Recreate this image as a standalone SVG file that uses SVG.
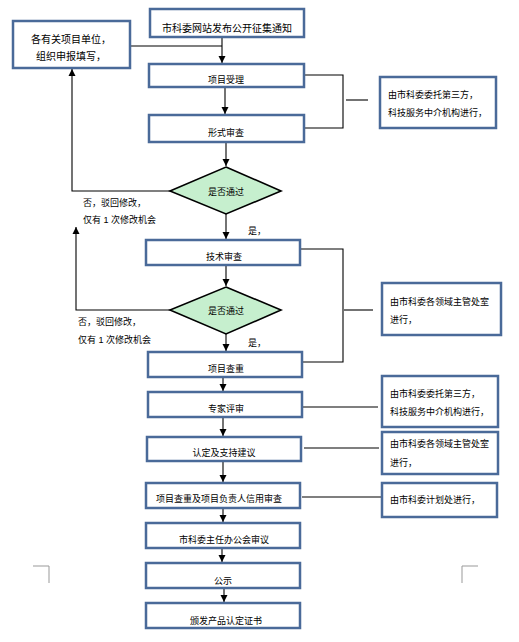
<svg xmlns="http://www.w3.org/2000/svg" width="519" height="642" viewBox="0 0 519 642">
<style>
.box{fill:#fff;stroke:#4a6a99;stroke-width:2.5}
.dia{fill:#c6efce;stroke:#000;stroke-width:1.6}
.ln{fill:none;stroke:#000;stroke-width:1.1}
.t{font-family:"Liberation Sans","Noto Sans CJK SC",sans-serif;font-size:9px;fill:#000;text-anchor:middle}
.tl{font-family:"Liberation Sans","Noto Sans CJK SC",sans-serif;font-size:9px;fill:#000}
.big{font-size:10px}
.corner{fill:none;stroke:#999;stroke-width:1}
</style>
<defs>
<marker id="ah" markerWidth="8" markerHeight="8" refX="7" refY="4" orient="auto" markerUnits="userSpaceOnUse">
<path d="M0,0.5 L7,4 L0,7.5 Z" fill="#000"/>
</marker>
</defs>

<g id="connectors">
<path class="ln" d="M222,37 V63" marker-end="url(#ah)"/>
<path class="ln" d="M131,46 H222"/>
<path class="ln" d="M225,87 V114" marker-end="url(#ah)"/>
<path class="ln" d="M304,75 H343 V128 H304"/>
<path class="ln" d="M346,100 H368"/>
<path class="ln" d="M226,142 V166" marker-end="url(#ah)"/>
<path class="ln" d="M170,191 H72 V69" marker-end="url(#ah)"/>
<path class="ln" d="M226,214 V239" marker-end="url(#ah)"/>
<path class="ln" d="M300,249 H343 V362 H302"/>
<path class="ln" d="M344,310 H373"/>
<path class="ln" d="M226,265 V286" marker-end="url(#ah)"/>
<path class="ln" d="M170,310 H76 V227" marker-end="url(#ah)"/>
<path class="ln" d="M226,334 V351" marker-end="url(#ah)"/>
<path class="ln" d="M223,377 V391" marker-end="url(#ah)"/>
<path class="ln" d="M302,407 H378"/>
<path class="ln" d="M223,417 V436" marker-end="url(#ah)"/>
<path class="ln" d="M304,448 H379"/>
<path class="ln" d="M223,461 V482" marker-end="url(#ah)"/>
<path class="ln" d="M302,497 H382"/>
<path class="ln" d="M223,508 V522" marker-end="url(#ah)"/>
<path class="ln" d="M222,548 V562" marker-end="url(#ah)"/>
<path class="ln" d="M224,588 V602" marker-end="url(#ah)"/>
</g>

<g id="n-notice"><rect class="box" x="150" y="9" width="154" height="28"/><text class="t big" x="227" y="32">市科委网站发布公开征集通知</text></g>
<g id="n-units"><rect class="box" x="13" y="21" width="117" height="47"/><text class="t big" x="71" y="43">各有关项目单位，</text><text class="t big" x="71" y="60">组织申报填写，</text></g>
<g id="n-accept"><rect class="box" x="149" y="64" width="155" height="23"/><text class="t" x="226" y="83">项目受理</text></g>
<g id="n-formal"><rect class="box" x="149" y="115" width="155" height="27"/><text class="t" x="226" y="136">形式审查</text></g>
<g id="n-third1"><rect class="box" x="380" y="77" width="116" height="51"/><text class="tl" x="388" y="98">由市科委委托第三方，</text><text class="tl" x="388" y="116">科技服务中介机构进行，</text></g>
<g id="n-d1"><polygon class="dia" points="226,167 281,191 226,214 170,191"/><text class="t" x="226" y="195">是否通过</text></g>
<g id="n-tech"><rect class="box" x="146" y="240" width="154" height="25"/><text class="t" x="224" y="260">技术审查</text></g>
<g id="n-dept1"><rect class="box" x="382" y="283" width="119" height="52"/><text class="tl" x="390" y="305">由市科委各领域主管处室</text><text class="tl" x="390" y="323">进行，</text></g>
<g id="n-d2"><polygon class="dia" points="226,287 281,310 226,334 170,310"/><text class="t" x="226" y="314">是否通过</text></g>
<g id="n-dup"><rect class="box" x="148" y="352" width="154" height="25"/><text class="t" x="226" y="372">项目查重</text></g>
<g id="n-expert"><rect class="box" x="148" y="392" width="154" height="25"/><text class="t" x="226" y="412">专家评审</text></g>
<g id="n-third2"><rect class="box" x="382" y="376" width="116" height="51"/><text class="tl" x="390" y="397">由市科委委托第三方，</text><text class="tl" x="390" y="415">科技服务中介机构进行，</text></g>
<g id="n-suggest"><rect class="box" x="147" y="437" width="154" height="24"/><text class="t" x="224" y="456">认定及支持建议</text></g>
<g id="n-dept2"><rect class="box" x="382" y="432" width="116" height="42"/><text class="tl" x="390" y="447">由市科委各领域主管处室</text><text class="tl" x="390" y="466">进行，</text></g>
<g id="n-credit"><rect class="box" x="146" y="483" width="154" height="25"/><text class="t" x="219" y="502">项目查重及项目负责人信用审查</text></g>
<g id="n-plan"><rect class="box" x="382" y="483" width="115" height="34"/><text class="tl" x="390" y="503">由市科委计划处进行，</text></g>
<g id="n-office"><rect class="box" x="146" y="523" width="154" height="25"/><text class="t" x="224" y="543">市科委主任办公会审议</text></g>
<g id="n-public"><rect class="box" x="146" y="563" width="154" height="25"/><text class="t" x="223" y="584">公示</text></g>
<g id="n-cert"><rect class="box" x="146" y="603" width="154" height="25"/><text class="t" x="226" y="624">颁发产品认定证书</text></g>

<g id="labels">
<text class="tl" x="83" y="206">否，驳回修改，</text>
<text class="tl" x="83" y="223">仅有 1 次修改机会</text>
<text class="tl" x="248" y="234">是，</text>
<text class="tl" x="78" y="325">否，驳回修改，</text>
<text class="tl" x="78" y="343">仅有 1 次修改机会</text>
<text class="tl" x="248" y="346">是，</text>
</g>

<path class="corner" d="M33,566 H49 V583"/>
<path class="corner" d="M478,566 H462 V583"/>
</svg>
